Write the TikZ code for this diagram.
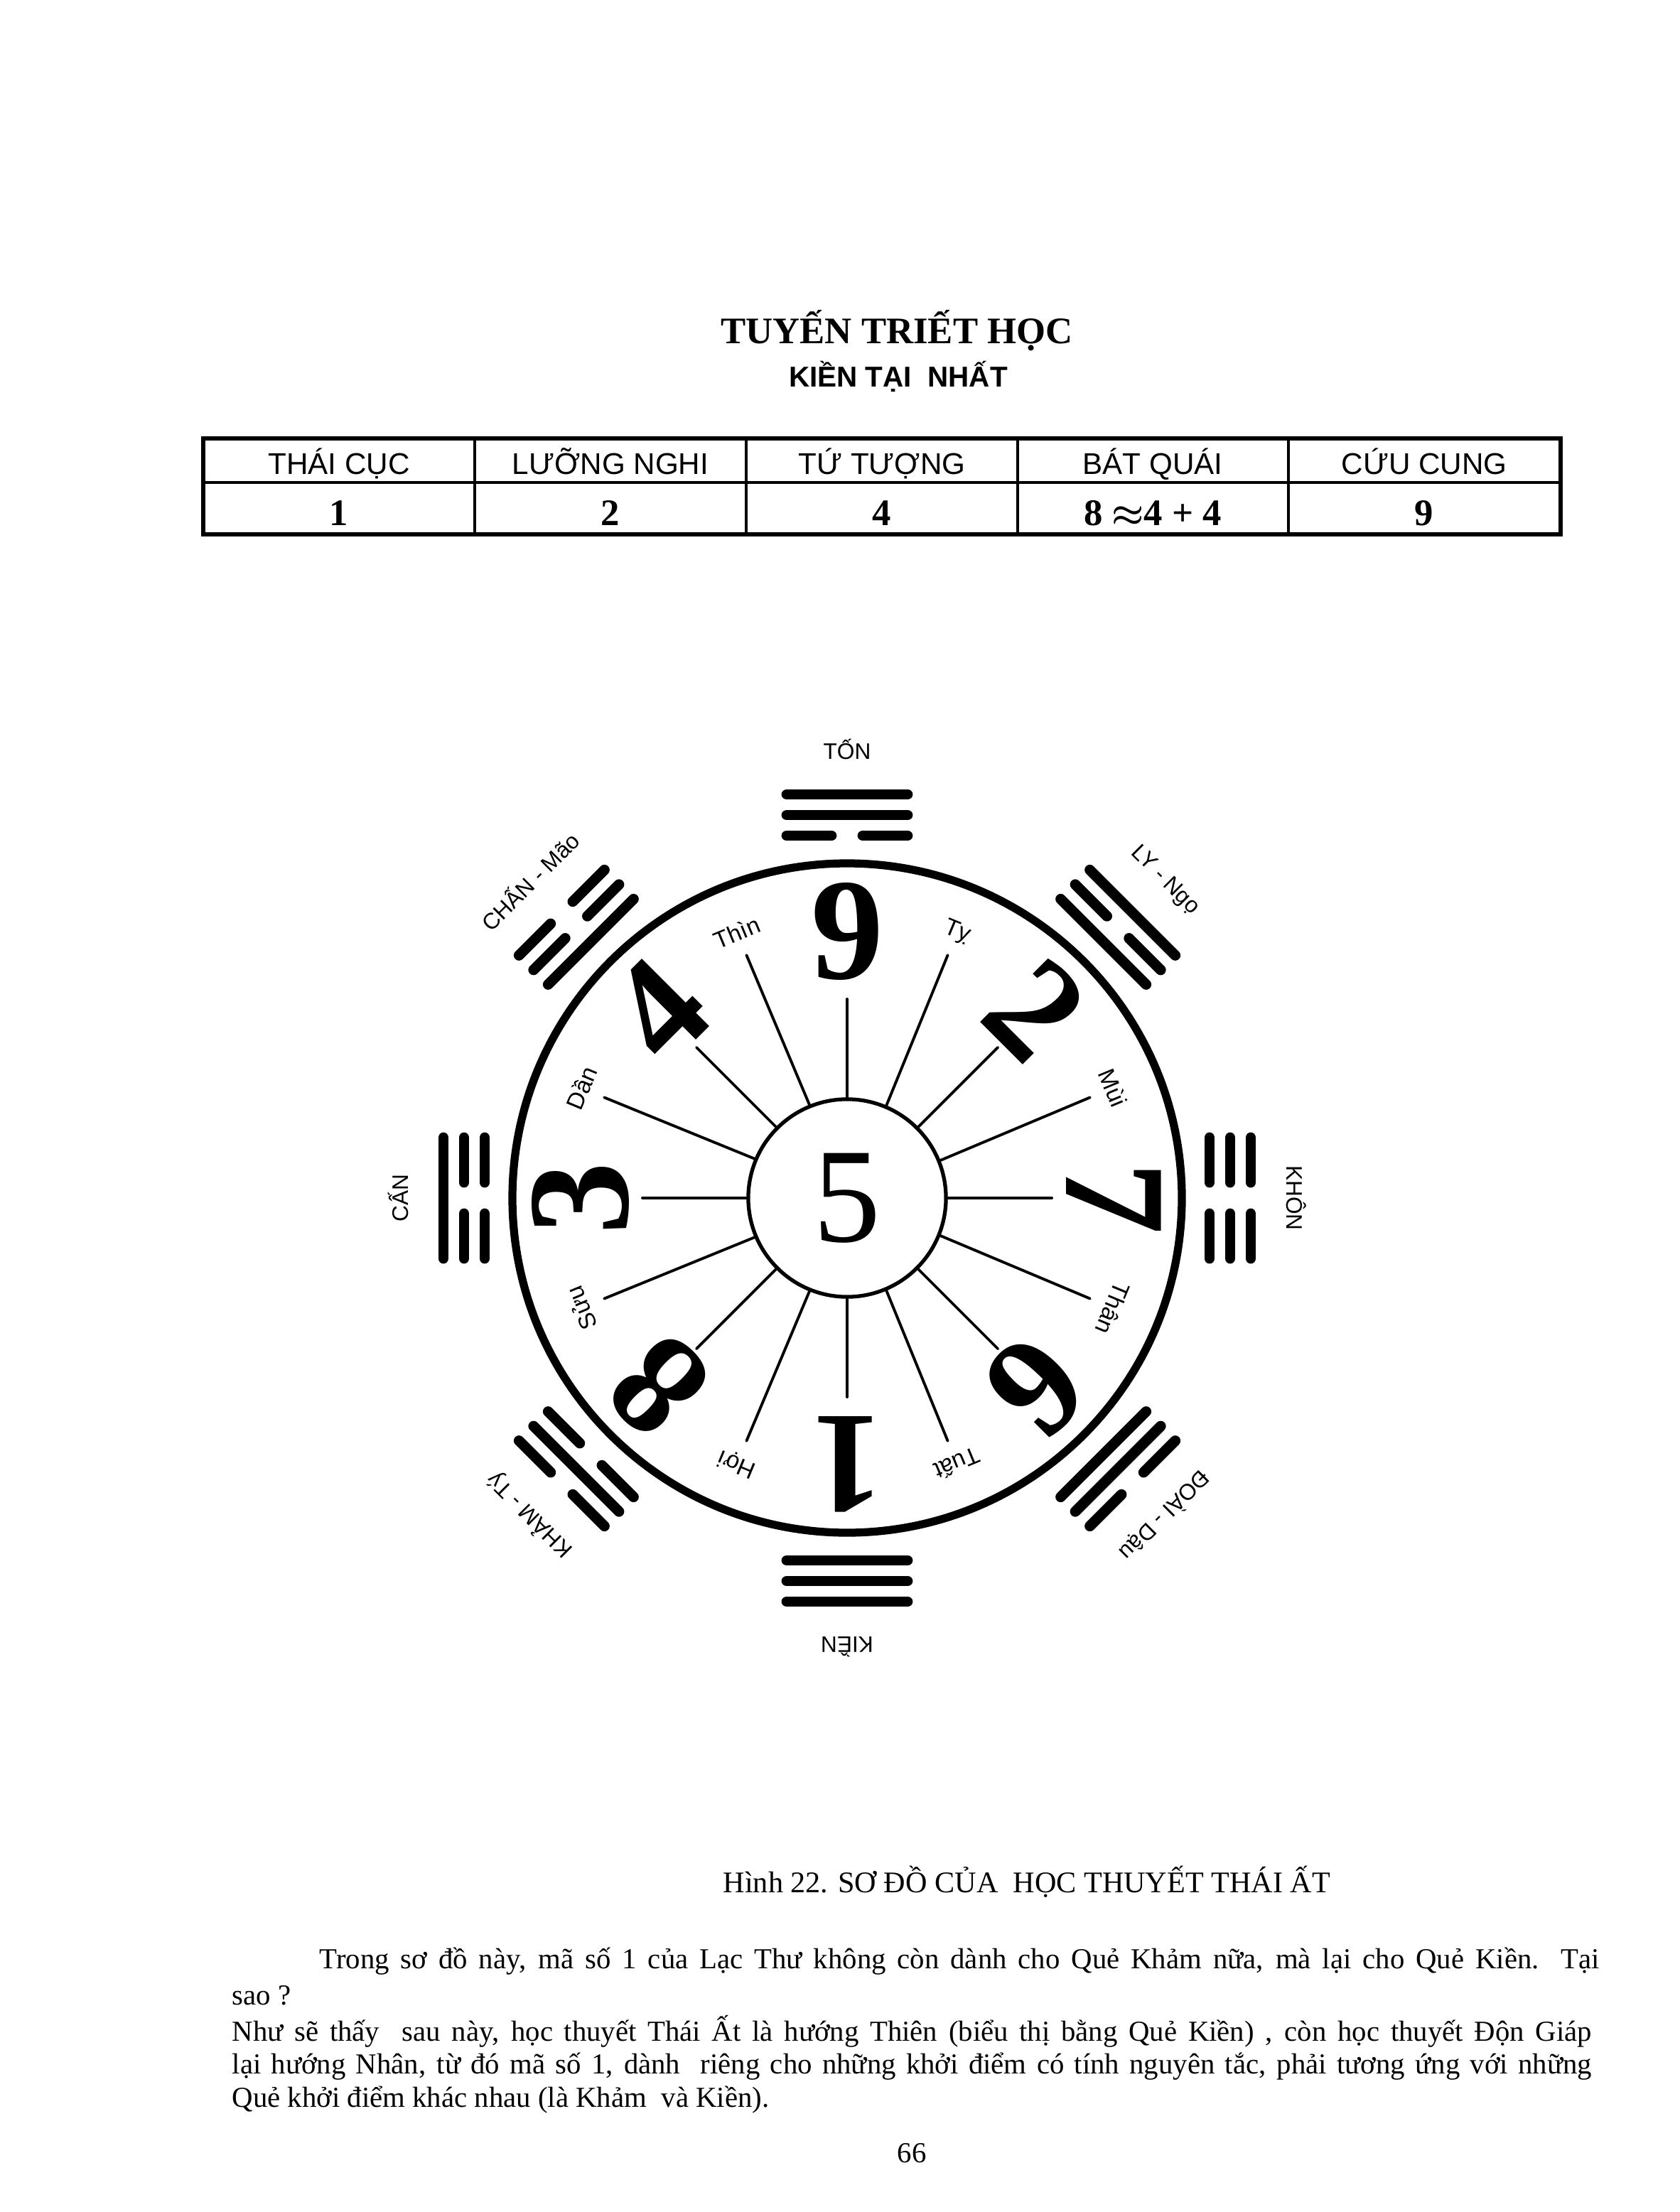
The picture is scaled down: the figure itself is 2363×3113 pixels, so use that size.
\documentclass[tikz,border=0pt]{standalone}
\usepackage{fontspec}
\setmainfont{Liberation Serif}
\setsansfont{Liberation Sans}

\begin{document}
\begin{tikzpicture}[x=0.01cm,y=-0.01cm,line cap=round,
  hao/.style={line width=4.2pt},
  spoke/.style={line width=1.1pt},
  cot/.style={line width=1.3pt},
  sohieu/.style={inner sep=0pt,font=\bfseries\fontsize{58}{58}\selectfont},
  chi/.style={inner sep=0pt,font=\sffamily\fontsize{9.5}{9.5}\selectfont},
  quai/.style={inner sep=0pt,font=\sffamily\fontsize{9}{9}\selectfont},
  dong/.style={anchor=base west,inner sep=0pt,font=\fontsize{11.6}{11.6}\selectfont}]
\useasboundingbox (0,0) rectangle (2363,3113);

% tieu de
\node[anchor=base,inner sep=0pt,font=\bfseries\fontsize{15}{15}\selectfont] (tieude) at (1262,484) {TUYẾN TRIẾT HỌC};
\node[anchor=base,inner sep=0pt,font=\sffamily\bfseries\fontsize{11.5}{11.5}\selectfont] (phude) at (1264,545) {KIỀN TẠI\ \ NHẤT};

% bang
\draw[line width=1.8pt] (286,617) rectangle (2196,752);
\draw[cot] (286,679) -- (2196,679);
\foreach \x in {668,1050,1432,1813}
  \draw[cot] (\x,617) -- (\x,752);
\foreach \x/\ten/\so [count=\i] in {477/THÁI CỤC/1, 859/LƯỠNG NGHI/2, 1241/TỨ TƯỢNG/4,
    1622/BÁT QUÁI/{8 {\boldmath$\approx$}4 + 4}, 2004/CỨU CUNG/9} {
  \node[anchor=base,inner sep=0pt,font=\sffamily\fontsize{12}{12}\selectfont] (ten-\i) at (\x,668) {\ten};
  \node[anchor=base,inner sep=0pt,font=\bfseries\fontsize{15}{15}\selectfont] (gt-\i) at (\x,740) {\so};
}

% so do cuu cung
\begin{scope}[shift={(1192,1686)},y=0.01cm]
\draw[line width=3.2pt] (0,0) circle[radius=471];
\node[circle,draw,line width=1.5pt,minimum size=2.78cm,inner sep=0pt,
  font=\fontsize{54}{54}\selectfont] (tam) at (0,0) {5};
% nan ngan (ve phia so) va nan dai (ve phia chi)
\foreach \a/\r in {0/288,45/300,90/280,135/300,180/288,-135/300,-90/280,-45/300}
  \draw[spoke] (tam.\a) -- (\a:\r);
\foreach \a in {22.5,67.5,112.5,157.5,-157.5,-112.5,-67.5,-22.5}
  \draw[spoke] (tam.\a) -- (\a:370);
\foreach \a/\n in {90/9,45/2,0/7,-45/6,-90/1,-135/8,180/3,135/4}
  \node[sohieu,rotate=\a-90] (cung\n) at (\a:375) {\n};
\foreach \a/\t [count=\i] in {112.5/Thìn,67.5/Tỵ,22.5/Mùi,-22.5/Thân,-67.5/Tuất,
    -112.5/Hợi,-157.5/Sửu,157.5/Dần}
  \node[chi,rotate=\a-90] (chi-\i) at (\a:405) {\t};
% bat quai: 1 = hao duong, 0 = hao am (trong ra ngoai)
\foreach \a/\ha/\hb/\hc in {90/0/1/1,45/1/0/1,0/0/0/0,-45/1/1/0,-90/1/1/1,
    -135/0/1/0,180/0/0/1,135/1/0/0} {
  \begin{scope}[rotate=\a-90]
    \foreach \hao [count=\k] in {\ha,\hb,\hc} {
      \pgfmathsetmacro{\rad}{481+29*\k}
      \ifnum\hao=1
        \draw[hao] (-85,\rad) -- (85,\rad);
      \else
        \draw[hao] (-85,\rad) -- (-22,\rad) (22,\rad) -- (85,\rad);
      \fi
    }
  \end{scope}
}
\foreach \a/\t [count=\i] in {90/TỐN,45/LY - Ngọ,0/KHÔN,-45/ĐOÀI - Dậu,-90/KIỀN,
    -135/KHẢM - Tý,180/CẤN,135/CHẤN - Mão}
  \node[quai,rotate=\a-90] (quai-\i) at (\a:632) {\t};
\end{scope}

% chu thich
\node[dong,font=\fontsize{12}{12}\selectfont] (hinh) at (1017,2663) {Hình 22. SƠ ĐỒ CỦA\ \ HỌC THUYẾT THÁI ẤT};
\node[dong] (dong-1) at (449,2770) {\makebox[18.0cm][s]{Trong sơ đồ này, mã số 1 của Lạc Thư không còn dành cho Quẻ Khảm nữa, mà lại cho Quẻ Kiền. Tại}};
\node[dong] (dong-2) at (326,2821) {sao ?};
\node[dong] (dong-3) at (326,2872) {\makebox[19.12cm][s]{Như sẽ thấy\ \ sau này, học thuyết Thái Ất là hướng Thiên (biểu thị bằng Quẻ Kiền) , còn học thuyết Độn Giáp}};
\node[dong] (dong-4) at (326,2918) {\makebox[19.12cm][s]{lại hướng Nhân, từ đó mã số 1, dành\ \ riêng cho những khởi điểm có tính nguyên tắc, phải tương ứng với những}};
\node[dong] (dong-5) at (326,2965) {Quẻ khởi điểm khác nhau (là Khảm\ \ và Kiền).};
\node[anchor=base,inner sep=0pt,font=\fontsize{11.6}{11.6}\selectfont] (trang) at (1283,3043) {66};
\end{tikzpicture}
\end{document}
